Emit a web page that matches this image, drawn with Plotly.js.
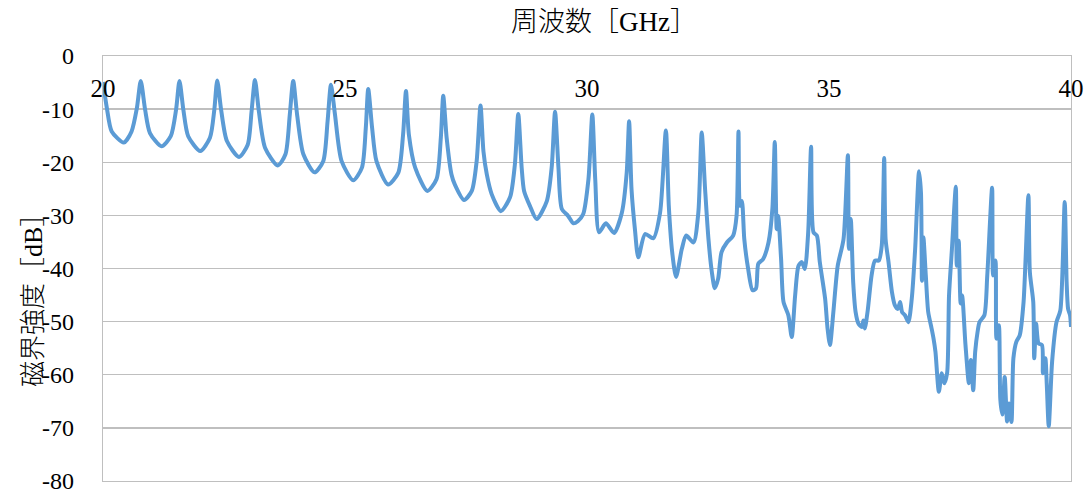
<!DOCTYPE html>
<html>
<head>
<meta charset="utf-8">
<script src="https://cdn.plot.ly/plotly-3.0.1.min.js"></script>
<style>
html,body{margin:0;padding:0;background:#fff;}
#chart{width:1091px;height:495px;}
</style>
</head>
<body>
<div id="chart"></div>
<script>
// Frequency [GHz]
const freqGHz = [
20.00,20.08,20.18,20.43,20.59,20.70,20.78,20.87,20.97,21.21,
21.40,21.51,21.58,21.66,21.76,22.01,22.21,22.30,22.36,22.44,
22.56,22.81,22.99,23.07,23.14,23.22,23.35,23.61,23.77,23.86,
23.93,24.01,24.14,24.37,24.55,24.64,24.71,24.79,24.93,25.17,
25.35,25.43,25.48,25.56,25.65,25.89,26.10,26.20,26.26,26.32,
26.45,26.70,26.89,26.98,27.03,27.10,27.20,27.27,27.46,27.62,
27.72,27.80,27.86,27.93,28.03,28.22,28.41,28.51,28.58,28.65,
28.70,28.82,28.96,29.17,29.27,29.34,29.41,29.48,29.61,29.72,
29.81,29.92,30.03,30.11,30.17,30.25,30.39,30.56,30.72,30.82,
30.87,30.92,30.99,31.06,31.20,31.37,31.51,31.63,31.69,31.76,
31.84,31.96,32.05,32.20,32.30,32.37,32.44,32.51,32.58,32.64,
32.71,32.78,32.89,33.02,33.09,33.13,33.16,33.20,33.25,33.33,
33.42,33.49,33.54,33.64,33.75,33.83,33.88,33.92,33.95,34.01,
34.06,34.16,34.23,34.30,34.37,34.44,34.50,34.57,34.63,34.68,
34.75,34.81,34.92,34.97,35.02,35.09,35.18,35.30,35.39,35.41,
35.45,35.50,35.55,35.61,35.68,35.71,35.74,35.80,35.88,35.95,
36.03,36.09,36.14,36.17,36.23,36.30,36.36,36.42,36.47,36.51,
36.57,36.64,36.71,36.78,36.86,36.90,36.92,36.95,37.00,37.05,
37.12,37.16,37.20,37.27,37.33,37.38,37.44,37.48,37.54,37.62,
37.64,37.68,37.72,37.75,37.82,37.89,37.93,37.98,38.02,38.07,
38.11,38.21,38.27,38.37,38.39,38.44,38.46,38.51,38.54,38.58,
38.63,38.68,38.72,38.77,38.81,38.87,38.94,39.02,39.12,39.15,
39.22,39.24,39.28,39.33,39.40,39.42,39.47,39.50,39.54,39.61,
39.70,39.78,39.87,39.91,39.94,39.98,40.00
];
// Magnetic field strength [dB]
const levelDb = [
-4.9,-9.8,-14.2,-16.3,-14.2,-9.8,-4.7,-10.1,-14.5,-17.0,
-15.1,-10.1,-4.7,-10.1,-15.1,-17.9,-15.4,-10.1,-4.6,-10.1,
-16.0,-19.0,-16.7,-10.4,-4.5,-10.4,-17.3,-20.6,-18.5,-11.0,
-4.7,-11.0,-18.5,-21.9,-19.8,-12.3,-5.4,-10.8,-19.8,-23.4,
-21.0,-13.5,-6.2,-13.5,-19.8,-24.2,-22.0,-14.8,-6.6,-14.8,
-21.0,-25.4,-23.2,-15.4,-7.5,-15.4,-22.3,-24.2,-27.1,-25.4,
-19.8,-9.3,-17.9,-22.3,-26.0,-29.2,-26.6,-20.4,-10.9,-21.0,
-25.4,-28.2,-30.7,-27.3,-21.0,-10.5,-21.0,-28.8,-30.1,-31.5,
-31.1,-29.8,-23.2,-11.0,-23.2,-33.2,-31.5,-33.3,-29.5,-22.0,
-12.3,-25.1,-32.6,-37.9,-33.5,-34.3,-29.5,-14.0,-28.2,-36.9,
-41.6,-36.3,-33.8,-35.1,-29.5,-14.4,-25.1,-34.5,-40.7,-43.7,
-41.9,-36.9,-35.1,-33.8,-30.1,-14.2,-28.2,-27.3,-34.5,-40.1,
-44.1,-43.8,-39.1,-38.2,-35.1,-28.8,-16.2,-32.6,-30.1,-38.2,
-46.3,-48.8,-52.9,-45.1,-39.5,-38.8,-40.1,-33.2,-17.1,-33.2,
-33.8,-38.8,-45.7,-51.3,-54.4,-48.2,-39.5,-34.5,-18.7,-36.3,
-30.7,-42.6,-48.2,-50.4,-51.0,-49.8,-51.3,-47.9,-41.3,-38.5,
-38.5,-35.7,-19.2,-34.5,-38.8,-44.4,-46.9,-47.6,-46.3,-48.2,
-48.8,-50.1,-45.7,-36.3,-21.7,-25.7,-42.3,-34.1,-41.3,-48.2,
-51.3,-53.2,-55.7,-63.2,-59.7,-61.6,-59.7,-45.1,-36.3,-24.6,
-39.5,-34.8,-46.6,-45.1,-54.4,-61.6,-57.2,-62.9,-55.7,-51.9,
-50.1,-48.8,-41.3,-24.8,-41.3,-38.5,-53.2,-50.7,-64.7,-67.5,
-60.4,-68.8,-65.4,-68.9,-56.9,-53.8,-52.6,-46.3,-26.2,-40.7,
-46.3,-56.9,-50.4,-54.1,-54.4,-59.7,-56.9,-61.9,-69.7,-57.5,
-50.1,-47.9,-27.5,-42.6,-47.6,-48.8,-51.0
];
const xTickVals = [20, 25, 30, 35, 40];
const xTickLabels = ['20', '25', '30', '35', '40'];
const yTickVals = [0, -10, -20, -30, -40, -50, -60, -70, -80];
const yTickLabels = ['0', '-10', '-20', '-30', '-40', '-50', '-60', '-70', '-80'];
const xTitle = '周波数［GHz］';
const yTitle = '磁界強度［dB］';

const FONT = '"Liberation Serif", "Noto Sans CJK JP", serif';
const GRID = '#BFBFBF';

const trace = {
  x: freqGHz,
  y: levelDb,
  type: 'scatter',
  mode: 'lines',
  line: {color: '#5B9BD5', width: 4, shape: 'spline', smoothing: 0.7},
  hoverinfo: 'skip'
};

const layout = {
  width: 1091,
  height: 495,
  margin: {l: 103, r: 20, t: 56, b: 14, pad: 0},
  paper_bgcolor: '#ffffff',
  plot_bgcolor: '#ffffff',
  showlegend: false,
  font: {family: FONT, size: 24, color: '#000000'},
  title: {
    text: xTitle,
    font: {family: FONT, size: 27, color: '#000000', weight: 300},
    x: (604 - 103) / 968, xref: 'paper', xanchor: 'center',
    y: 1 - 22 / 495, yref: 'container', yanchor: 'middle'
  },
  xaxis: {
    side: 'top',
    range: [20, 40],
    tickmode: 'array',
    tickvals: xTickVals,
    ticktext: xTickLabels,
    ticks: '',
    ticklabelposition: 'inside',
    ticklabeloverflow: 'allow',
    ticklabelstandoff: 25,
    showgrid: false,
    zeroline: false,
    showline: true,
    linecolor: GRID,
    linewidth: 1.3,
    mirror: true,
    tickfont: {family: FONT, size: 25, color: '#000000'},
    fixedrange: true
  },
  yaxis: {
    range: [-80, 0],
    tickmode: 'array',
    tickvals: yTickVals,
    ticktext: yTickLabels,
    ticks: '',
    ticklabelstandoff: 23,
    ticklabeloverflow: 'allow',
    showgrid: true,
    gridcolor: GRID,
    gridwidth: 1.3,
    zeroline: false,
    showline: true,
    linecolor: GRID,
    linewidth: 1.3,
    mirror: true,
    tickfont: {family: FONT, size: 24, color: '#000000'},
    fixedrange: true
  },
  annotations: [{
    text: yTitle,
    textangle: -90,
    xref: 'paper', yref: 'paper',
    x: (33 - 103) / 968, y: (481 - 294) / 425,
    xanchor: 'center', yanchor: 'middle',
    showarrow: false,
    font: {family: FONT, size: 26, color: '#000000', weight: 300}
  }]
};

Plotly.newPlot('chart', [trace], layout, {displayModeBar: false, staticPlot: true});
</script>
</body>
</html>
